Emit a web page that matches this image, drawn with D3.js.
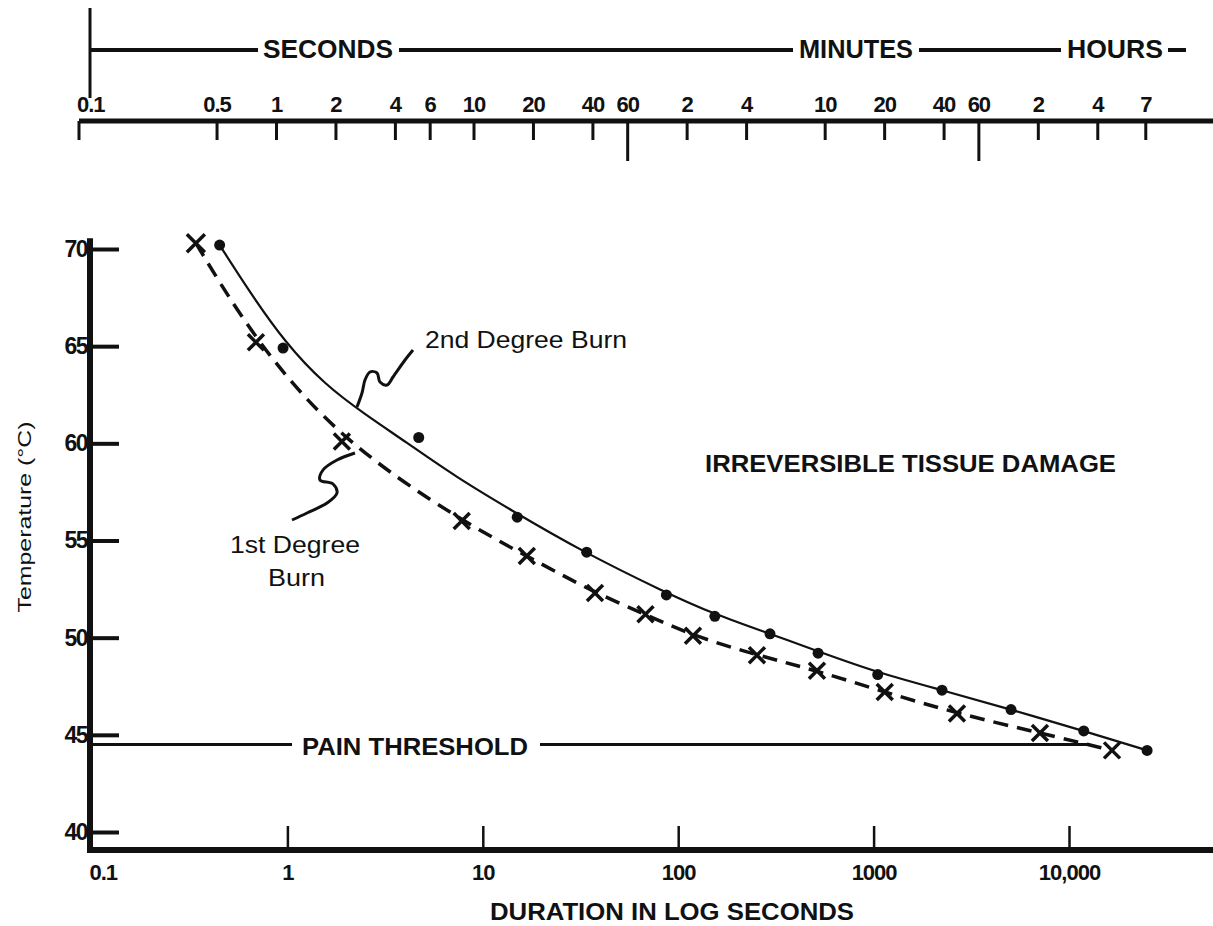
<!DOCTYPE html>
<html>
<head>
<meta charset="utf-8">
<script src="https://cdnjs.cloudflare.com/ajax/libs/d3/7.8.5/d3.min.js"></script>
<style>
body { margin: 0; background: #fff; }
text { font-family: "Liberation Sans", Arial, sans-serif; fill: #111; }
</style>
</head>
<body>
<div id="graph"></div>
<script>

// durations in seconds, temperatures in deg C
const secondDegreeTime = [0.45, 0.95, 4.7, 15, 34, 87, 154, 295, 520, 1050, 2240, 5050, 11900, 25100];
const secondDegreeTemp = [70.2, 64.9, 60.3, 56.2, 54.4, 52.2, 51.1, 50.2, 49.2, 48.1, 47.3, 46.3, 45.2, 44.2];
const firstDegreeTime = [0.34, 0.69, 1.9, 7.8, 16.8, 37.5, 68, 119, 253, 513, 1140, 2670, 7100, 16600];
const firstDegreeTemp = [70.3, 65.2, 60.1, 56.0, 54.2, 52.3, 51.2, 50.1, 49.1, 48.3, 47.2, 46.1, 45.1, 44.2];

// the hand-drawn fit through the 2nd degree points (it misses some of them)
const secondFitTime = [0.45, 0.64, 0.97, 1.56, 2.49, 4.0, 7.2, 14.3, 31.4, 87, 154, 295, 520, 1050, 2240, 5050, 11900, 25100];
const secondFitTemp = [70.2, 67.8, 65.2, 63.0, 61.5, 60.1, 58.3, 56.5, 54.5, 52.3, 51.2, 50.2, 49.3, 48.2, 47.3, 46.3, 45.2, 44.2];

const tempTicks = [40, 45, 50, 55, 60, 65, 70];
const durationTicks = [0.1, 1, 10, 100, 1000, 10000];
const durationLabels = ["0.1", "1", "10", "100", "1000", "10,000"];

// clock scale along the top (values in seconds)
const clockTicks = [0.1, 0.5, 1, 2, 4, 6, 10, 20, 40, 60, 120, 240, 600, 1200, 2400, 3600, 7200, 14400, 25200];
const clockLabels = ["0.1", "0.5", "1", "2", "4", "6", "10", "20", "40", "60", "2", "4", "10", "20", "40", "60", "2", "4", "7"];
const clockMajor = [60, 3600];
const unitNames = ["SECONDS", "MINUTES", "HOURS"];

const painThreshold = 44.5;
const painEnd = 12800;

createGraph();

function createGraph() {

	var svg = d3.select("#graph")
		.append("svg")
		.attr("width", 1213)
		.attr("height", 926);

	var x = d3.scaleLog().domain([0.1, 10000]).range([92, 1069]);
	var y = d3.scaleLinear().domain([40, 70]).range([832, 249]);
	var xTop = d3.scaleLog().domain([0.1, 10]).range([79, 474]);

	var ink = "#111";
	var topY = 121;

	// ---- top clock scale
	var top = svg.append("g");

	top.append("line")
		.attr("x1", 90).attr("x2", 90)
		.attr("y1", 8).attr("y2", 98)
		.attr("stroke", ink).attr("stroke-width", 3);

	var unitX = [263, 799, 1067];
	var unitW = [130, 114, 96];
	top.selectAll(".unit")
		.data(unitNames)
		.enter().append("text")
		.attr("class", "unit")
		.attr("x", (d, i) => unitX[i])
		.attr("y", 58)
		.attr("textLength", (d, i) => unitW[i])
		.attr("lengthAdjust", "spacingAndGlyphs")
		.style("font-size", "25px")
		.style("font-weight", "bold")
		.text(d => d);

	// line segments between the unit words
	var segs = [[90, unitX[0] - 5]];
	for (var i = 0; i < unitNames.length - 1; i++) {
		segs.push([unitX[i] + unitW[i] + 6, unitX[i + 1] - 6]);
	}
	segs.push([unitX[2] + unitW[2] + 5, 1186]);
	top.selectAll(".useg")
		.data(segs)
		.enter().append("line")
		.attr("x1", d => d[0]).attr("x2", d => d[1])
		.attr("y1", 50).attr("y2", 50)
		.attr("stroke", ink).attr("stroke-width", 4);

	top.append("line")
		.attr("x1", 79).attr("x2", 1213)
		.attr("y1", topY).attr("y2", topY)
		.attr("stroke", ink).attr("stroke-width", 5);

	top.selectAll(".ctick")
		.data(clockTicks)
		.enter().append("line")
		.attr("x1", d => xTop(d)).attr("x2", d => xTop(d))
		.attr("y1", topY)
		.attr("y2", d => clockMajor.includes(d) ? 161 : 140)
		.attr("stroke", ink).attr("stroke-width", 3);

	top.selectAll(".clabel")
		.data(clockTicks)
		.enter().append("text")
		.attr("x", (d, i) => i == 0 ? xTop(d) - 2 : xTop(d))
		.attr("y", 112)
		.attr("text-anchor", (d, i) => i == 0 ? "start" : "middle")
		.style("font-size", "22px")
		.style("font-weight", "bold")
		.style("letter-spacing", "-1px")
		.text((d, i) => clockLabels[i]);

	// ---- axes
	var yAxis = svg.append("g")
		.attr("transform", "translate(90,0)")
		.call(d3.axisLeft(y).tickValues(tempTicks).tickSize(-29).tickPadding(3));
	yAxis.select(".domain").remove();
	yAxis.selectAll("line").attr("stroke", ink).attr("stroke-width", 4);
	yAxis.selectAll("text")
		.attr("fill", ink)
		.style("font-size", "23px")
		.style("font-weight", "bold")
		.style("letter-spacing", "-1.5px")
		.style("font-family", "'Liberation Sans', Arial, sans-serif");

	var xAxis = svg.append("g")
		.attr("transform", "translate(0,850)")
		.call(d3.axisBottom(x).tickValues(durationTicks).tickSize(-24).tickPadding(14)
			.tickFormat((d, i) => durationLabels[i]));
	xAxis.select(".domain").remove();
	xAxis.selectAll("line").attr("stroke", ink).attr("stroke-width", 2.5);
	xAxis.selectAll(".tick").filter(d => d == 0.1).select("line").remove();
	xAxis.selectAll("text")
		.attr("fill", ink)
		.style("font-size", "22px")
		.style("font-weight", "bold")
		.style("letter-spacing", "-1px")
		.style("font-family", "'Liberation Sans', Arial, sans-serif");
	xAxis.selectAll(".tick").filter(d => d == 0.1).select("text")
		.attr("text-anchor", "start").attr("x", -3);

	// heavy axis lines
	svg.append("line")
		.attr("x1", 90).attr("x2", 90)
		.attr("y1", y(70.55)).attr("y2", 853)
		.attr("stroke", ink).attr("stroke-width", 6);
	svg.append("line")
		.attr("x1", 87).attr("x2", 1213)
		.attr("y1", 850).attr("y2", 850)
		.attr("stroke", ink).attr("stroke-width", 6);

	svg.append("text")
		.attr("x", 490).attr("y", 920)
		.attr("textLength", 364)
		.attr("lengthAdjust", "spacingAndGlyphs")
		.style("font-size", "24px")
		.style("font-weight", "bold")
		.text("DURATION IN LOG SECONDS");

	svg.append("text")
		.attr("transform", "translate(31,517) rotate(-90)")
		.attr("text-anchor", "middle")
		.attr("textLength", 191)
		.attr("lengthAdjust", "spacingAndGlyphs")
		.style("font-size", "19px")
		.text("Temperature (°C)");

	// ---- pain threshold
	var py = y(painThreshold);
	svg.append("text")
		.attr("x", 302).attr("y", py + 10)
		.attr("textLength", 226)
		.attr("lengthAdjust", "spacingAndGlyphs")
		.style("font-size", "24px")
		.style("font-weight", "bold")
		.text("PAIN THRESHOLD");
	svg.selectAll(".pain")
		.data([[0.1, null], [null, painEnd]])
		.enter().append("line")
		.attr("x1", d => d[0] ? x(d[0]) : 540)
		.attr("x2", d => d[1] ? x(d[1]) : 292)
		.attr("y1", py).attr("y2", py)
		.attr("stroke", ink).attr("stroke-width", 3);

	svg.append("text")
		.attr("x", 705).attr("y", 472)
		.attr("textLength", 411)
		.attr("lengthAdjust", "spacingAndGlyphs")
		.style("font-size", "24px")
		.style("font-weight", "bold")
		.text("IRREVERSIBLE TISSUE DAMAGE");

	// ---- curves
	var second = d3.zip(secondDegreeTime, secondDegreeTemp);
	var secondFit = d3.zip(secondFitTime, secondFitTemp);
	var first = d3.zip(firstDegreeTime, firstDegreeTemp);

	var line = d3.line()
		.x(d => x(d[0]))
		.y(d => y(d[1]))
		.curve(d3.curveBasis);

	svg.append("path")
		.datum(secondFit)
		.attr("d", line)
		.attr("fill", "none")
		.attr("stroke", ink)
		.attr("stroke-width", 2.2);

	svg.append("path")
		.datum(first)
		.attr("d", line)
		.attr("fill", "none")
		.attr("stroke", ink)
		.attr("stroke-width", 3.5)
		.attr("stroke-dasharray", "15,9");

	svg.selectAll(".dot")
		.data(second)
		.enter().append("circle")
		.attr("cx", d => x(d[0]))
		.attr("cy", d => y(d[1]))
		.attr("r", 5.5)
		.attr("fill", ink);

	svg.selectAll(".cross")
		.data(first)
		.enter().append("path")
		.attr("transform", d => "translate(" + x(d[0]) + "," + y(d[1]) + ")")
		.attr("d", (d, i) => {
			var s = i == 0 ? 9 : 8;
			return "M" + -s + "," + -s + "L" + s + "," + s + "M" + -s + "," + s + "L" + s + "," + -s;
		})
		.attr("stroke", ink)
		.attr("stroke-width", 3.5)
		.attr("fill", "none");

	// ---- annotations with squiggly leaders
	var squiggle = d3.line().curve(d3.curveCatmullRom);

	svg.append("text")
		.attr("x", 425).attr("y", 348)
		.attr("textLength", 202)
		.attr("lengthAdjust", "spacingAndGlyphs")
		.style("font-size", "24px")
		.text("2nd Degree Burn");
	svg.append("path")
		.attr("d", squiggle([[413, 350], [405, 360], [393, 377], [387, 385], [380, 382], [377, 373],
			[370, 372], [365, 380], [362, 393], [357, 407]]))
		.attr("fill", "none").attr("stroke", ink).attr("stroke-width", 3);

	svg.append("text")
		.attr("x", 230).attr("y", 553)
		.attr("textLength", 130)
		.attr("lengthAdjust", "spacingAndGlyphs")
		.style("font-size", "24px")
		.text("1st Degree");
	svg.append("text")
		.attr("x", 268).attr("y", 586)
		.attr("textLength", 57)
		.attr("lengthAdjust", "spacingAndGlyphs")
		.style("font-size", "24px")
		.text("Burn");
	svg.append("path")
		.attr("d", squiggle([[355, 453], [337, 460], [323, 470], [320, 480], [333, 484], [337, 493],
			[327, 503], [307, 513], [292, 520]]))
		.attr("fill", "none").attr("stroke", ink).attr("stroke-width", 3);
}
</script>
</body>
</html>
